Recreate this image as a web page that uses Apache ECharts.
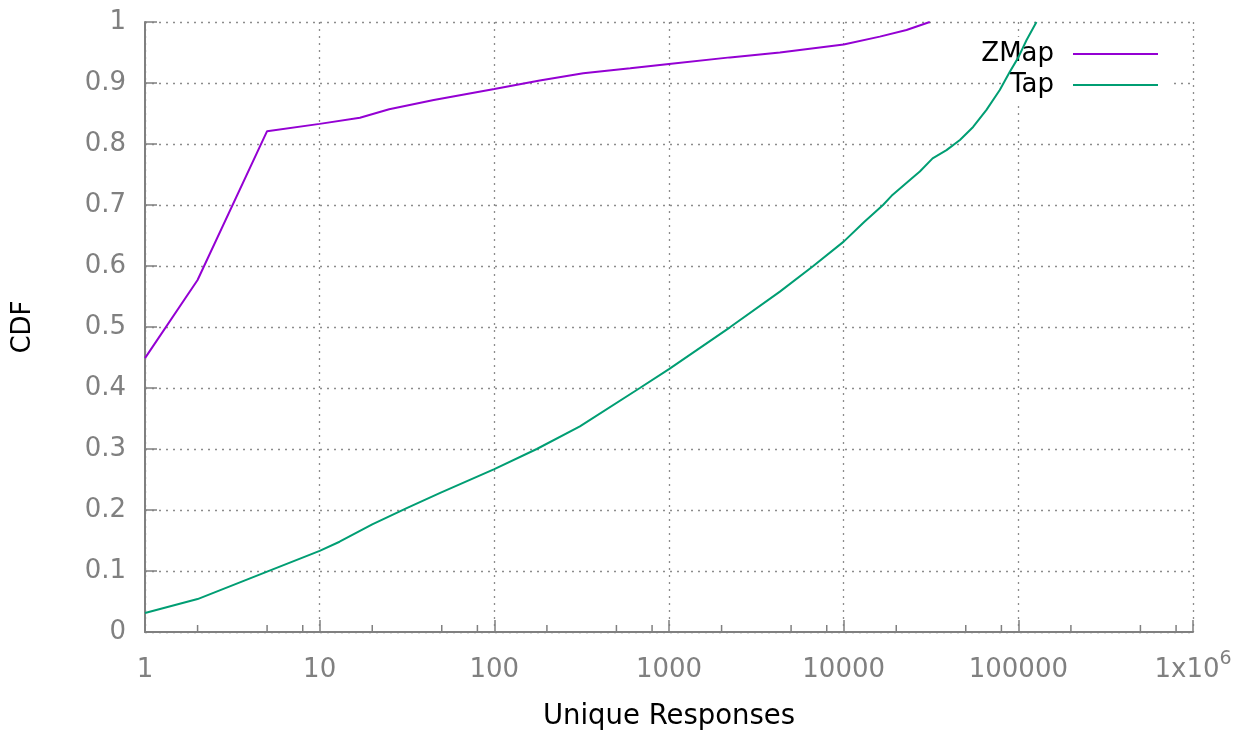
<!DOCTYPE html>
<html>
<head>
<meta charset="utf-8">
<script src="https://cdn.jsdelivr.net/npm/echarts@6/dist/echarts.min.js"></script>
<style>
  html, body { margin: 0; padding: 0; background: #fff; }
  #chart { width: 1242px; height: 731px; }
</style>
</head>
<body>
<div id="chart"></div>
<script>
// CDF of unique responses per source, ZMap vs Tap
const zmapX = [1, 2, 5, 10, 17, 25, 45, 100, 182, 323, 600, 1000, 2233, 4315, 10000, 16100, 22900, 31100];
const zmapY = [0.449, 0.577, 0.821, 0.833, 0.843, 0.857, 0.872, 0.890, 0.904, 0.916, 0.924, 0.931, 0.942, 0.950, 0.963, 0.976, 0.987, 1.0];

const tapX = [1, 2, 5, 10, 13, 20, 31.5, 49, 100, 175, 309, 681, 1000, 2233, 4315, 6700, 10000, 13100, 16800, 18800, 24400, 27300, 32300, 38800, 46300, 55100, 65700, 78300, 89400, 100000, 111500, 127000];
const tapY = [0.031, 0.054, 0.099, 0.133, 0.148, 0.1765, 0.203, 0.228, 0.267, 0.300, 0.337, 0.400, 0.431, 0.4995, 0.558, 0.600, 0.640, 0.672, 0.700, 0.715, 0.743, 0.755, 0.7765, 0.790, 0.8066, 0.828, 0.856, 0.8885, 0.9185, 0.942, 0.9705, 1.0];

// decade tick labels on the log axis
const xTickLabels = ['1', '10', '100', '1000', '10000', '100000', '1x10{sup|6}'];
// minor tick multipliers within each decade
const minorMultipliers = [2, 5, 8];
const decades = [1, 10, 100, 1000, 10000, 100000];

const FONT = 'DejaVu Sans';
const GRID_GREY = '#8c8c8c';
const AXIS_GREY = '#808080';

const minorTicks = [];
decades.forEach(d => minorMultipliers.forEach(m => minorTicks.push([d * m, 0])));

const chart = echarts.init(document.getElementById('chart'));

const legendCommon = {
  orient: 'vertical',
  align: 'right',
  icon: 'rect',
  itemWidth: 85,
  itemHeight: 2,
  backgroundColor: '#fff',
  z: 1,
  selectedMode: false,
  textStyle: { fontFamily: FONT, fontSize: 26, color: '#000', padding: [0, 14, 0, 0] }
};

chart.setOption({
  animation: false,
  backgroundColor: '#fff',
  grid: { left: 145, right: 49, top: 22, bottom: 99, containLabel: false, outerBoundsMode: 'none' },
  legend: [
    Object.assign({}, legendCommon, { data: ['ZMap'], right: 69, top: 37, padding: [4, 15, 2, 6] }),
    Object.assign({}, legendCommon, { data: ['Tap'], right: 69, top: 70, padding: [2, 15, 6, 6] })
  ],
  xAxis: {
    type: 'log',
    logBase: 10,
    min: 1,
    max: 1e6,
    name: 'Unique Responses',
    nameLocation: 'middle',
    nameGap: 71,
    nameTextStyle: { fontFamily: FONT, fontSize: 27.5, color: '#000' },
    axisLine: { show: true, onZero: false, lineStyle: { color: AXIS_GREY, width: 2 } },
    axisTick: { show: true, inside: true, length: 12, lineStyle: { color: AXIS_GREY, width: 1.5 } },
    axisLabel: {
      margin: 18,
      fontFamily: FONT,
      fontSize: 26,
      lineHeight: 40,
      color: AXIS_GREY,
      formatter: v => xTickLabels[Math.round(Math.log10(v))],
      rich: {
        sup: { fontFamily: FONT, fontSize: 19, lineHeight: 19, color: AXIS_GREY, verticalAlign: 'top' }
      }
    },
    splitLine: { show: true, lineStyle: { color: GRID_GREY, width: 1.3, type: [2, 5] } },
    minorTick: { show: false }
  },
  yAxis: {
    type: 'value',
    min: 0,
    max: 1,
    interval: 0.1,
    name: 'CDF',
    nameLocation: 'middle',
    nameRotate: 90,
    nameGap: 109,
    nameTextStyle: { fontFamily: FONT, fontSize: 26, color: '#000' },
    axisLine: { show: true, lineStyle: { color: AXIS_GREY, width: 2 } },
    axisTick: { show: true, inside: true, length: 12, lineStyle: { color: AXIS_GREY, width: 1.5 } },
    axisLabel: {
      margin: 19,
      fontFamily: FONT,
      fontSize: 26,
      color: AXIS_GREY,
      formatter: v => String(+v.toFixed(1))
    },
    splitLine: { show: true, lineStyle: { color: GRID_GREY, width: 1.3, type: [2, 5] } }
  },
  series: [
    {
      name: 'ZMap',
      type: 'line',
      data: zmapX.map((x, i) => [x, zmapY[i]]),
      showSymbol: false,
      symbol: 'none',
      lineStyle: { color: '#9400d3', width: 2 },
      itemStyle: { color: '#9400d3' },
      z: 3
    },
    {
      name: 'Tap',
      type: 'line',
      data: tapX.map((x, i) => [x, tapY[i]]),
      showSymbol: false,
      symbol: 'none',
      lineStyle: { color: '#009e73', width: 2 },
      itemStyle: { color: '#009e73' },
      z: 3
    },
    {
      name: 'minorTicks',
      type: 'custom',
      data: minorTicks,
      silent: true,
      clip: false,
      z: 2,
      renderItem: (params, api) => {
        const p = api.coord([api.value(0), api.value(1)]);
        return {
          type: 'line',
          shape: { x1: p[0], y1: p[1], x2: p[0], y2: p[1] - 7 },
          style: { stroke: AXIS_GREY, lineWidth: 1.5 }
        };
      }
    }
  ]
});
</script>
</body>
</html>
